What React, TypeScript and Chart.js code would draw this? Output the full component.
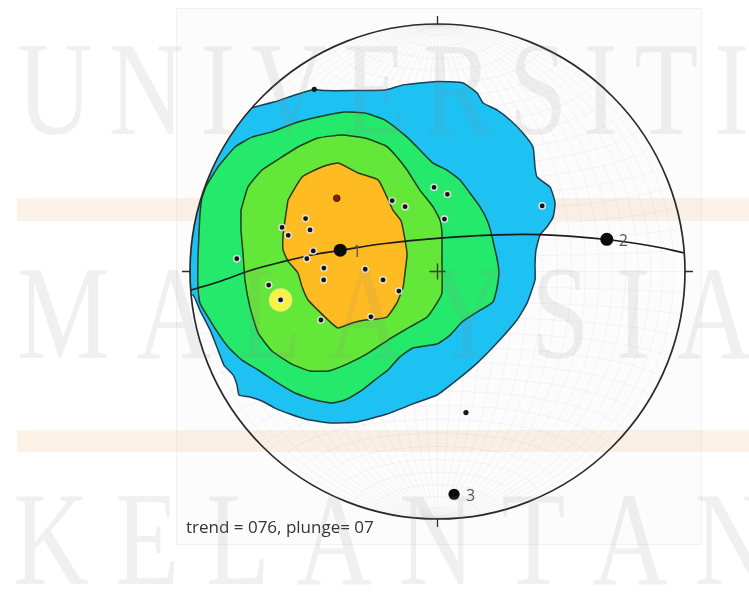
import React, { useEffect, useRef } from 'react';
import { Chart, registerables } from 'chart.js';

Chart.register(...registerables);

// Equal-area stereonet coordinates: primitive circle radius = 100, x = east, y = north.
type P = [number, number];

const blueContour: P[] = [
  [-75.4, 66.1], [-65.7, 68.6], [-57.6, 71.3], [-49.9, 73.5], [-45.5, 73.1], [-34.5, 73.1],
  [-21.2, 73.3], [-13.9, 75.4], [-0.2, 76.8], [10.3, 76.2], [16.0, 72.1], [18.4, 68.1],
  [24.0, 65.3], [29.3, 61.2], [34.5, 56.0], [38.6, 50.3], [39.4, 42.2], [40.2, 38.2],
  [45.5, 34.1], [47.5, 27.7], [46.7, 22.0], [44.2, 18.0], [41.4, 14.7], [39.8, 8.7],
  [39.4, 2.6], [39.4, -3.4], [36.2, -12.7], [32.1, -19.6], [24.0, -28.9], [16.0, -37.0],
  [7.9, -43.8], [-0.2, -49.9], [-9.9, -53.5], [-20.4, -57.6], [-32.5, -60.8], [-43.4, -61.2],
  [-53.5, -59.6], [-59.6, -57.6], [-65.7, -55.2], [-70.9, -52.3], [-75.8, -50.7], [-80.2, -49.9],
  [-81.0, -45.9], [-82.6, -41.8], [-86.3, -37.8], [-88.7, -31.7], [-91.9, -23.6], [-96.0, -15.6],
  [-98.8, -9.5], [-104, -9.5], [-112, 0], [-110, 50], [-84, 66],
];

const greenContour: P[] = [
  [-93.5, 34.5], [-88.7, 42.2], [-81.8, 50.3], [-75.0, 54.3], [-66.9, 56.4], [-57.6, 60.0],
  [-48.3, 62.4], [-37.4, 64.4], [-29.3, 64.0], [-21.2, 61.2], [-12.3, 54.3], [-7.1, 49.1],
  [-1.8, 43.8], [3.8, 41.0], [9.1, 37.0], [13.1, 31.7], [17.2, 26.1], [20.0, 20.8],
  [21.6, 16.0], [22.8, 10.7], [24.0, 5.5], [24.8, -0.2], [24.0, -6.7], [22.4, -12.3],
  [16.0, -16.4], [9.9, -20.4], [5.1, -25.7], [-0.2, -29.3], [-9.9, -30.9], [-15.2, -34.5],
  [-20.0, -39.8], [-25.3, -43.8], [-30.5, -47.9], [-37.4, -51.9], [-42.6, -53.1], [-49.5, -51.9],
  [-57.6, -49.1], [-64.4, -45.1], [-72.5, -39.8], [-79.0, -35.8], [-84.6, -30.5], [-88.7, -24.8],
  [-92.7, -18.4], [-96.0, -12.7], [-96.8, -5.5], [-96.8, 4.6], [-96.4, 14.7], [-96.0, 22.8],
  [-95.2, 29.7],
];

const lightGreenContour: P[] = [
  [-79.4, 24.8], [-76.6, 34.1], [-70.9, 41.0], [-62.8, 46.3], [-56.4, 50.3], [-48.3, 53.9],
  [-38.6, 55.2], [-29.3, 53.9], [-20.8, 50.7], [-16.4, 46.3], [-12.3, 41.0], [-7.1, 32.9],
  [-1.8, 26.1], [1.0, 20.8], [1.8, 16.0], [1.8, 4.6], [1.8, -8.7], [-0.2, -12.7],
  [-4.2, -18.4], [-11.1, -22.4], [-20.0, -27.7], [-28.5, -33.3], [-36.6, -37.4], [-44.2, -40.2],
  [-51.5, -40.2], [-58.8, -37.4], [-66.9, -32.1], [-72.5, -24.8], [-75.8, -14.3], [-77.8, -3.4],
  [-78.6, 7.5], [-79.4, 16.8],
];

const orangeContour: P[] = [
  [-60.4, 28.9], [-54.7, 38.2], [-46.7, 42.2], [-40.2, 43.8], [-32.1, 39.8], [-24.0, 37.0],
  [-20.8, 30.9], [-18.0, 24.8], [-14.7, 20.4], [-13.1, 12.7], [-12.3, 6.7], [-13.1, -0.2],
  [-13.9, -6.3], [-16.4, -12.7], [-20.4, -18.4], [-24.4, -19.2], [-29.3, -19.6], [-34.5, -20.8],
  [-40.2, -22.8], [-44.2, -19.6], [-48.3, -15.6], [-52.3, -11.5], [-54.7, -6.3], [-56.4, -0.6],
  [-60.4, 4.2], [-62.4, 8.7], [-62.4, 14.7], [-61.6, 20.8],
];

const yellowSpot: P[] = [[-63.4, -11.5]];

const greatCircle: P[] = [
  [-99.6, -7.5], [-88.7, -4.2], [-75.0, 0.6], [-61.6, 4.2], [-50.7, 6.7], [-39.4, 8.5],
  [-21.2, 11.3], [1.0, 13.5], [21.2, 14.7], [41.4, 14.9], [68.5, 12.9], [88.7, 9.9], [99.6, 7.5],
];

const poles: P[] = [
  [-18.3, 28.6], [-13.1, 26.2], [-1.4, 34.0], [4.0, 31.2], [2.8, 21.2], [-53.3, 21.4],
  [-51.5, 16.8], [-62.8, 17.8], [-60.3, 14.6], [-50.2, 8.3], [-52.8, 5.2], [-81.1, 5.2],
  [-45.9, 1.4], [-46.0, -3.4], [-29.2, 0.9], [-22.0, -3.4], [-15.6, -7.9], [-68.2, -5.5],
  [-63.4, -11.5], [-47.1, -19.6], [-26.9, -18.3], [42.3, 26.5],
];

const redPole: P[] = [[-40.7, 29.6]];
const plainDots: P[] = [[-49.8, 73.6], [11.5, -57.0]];

const keyPoints: P[] = [[-39.3, 8.6], [68.4, 13.0], [6.7, -90.0]];
const keyLabels = ['1', '2', '3'];

const caption = 'trend = 076, plunge= 07';
const watermarkRows = ['UNIVERSITI', 'MALAYSIA', 'KELANTAN'];

// ---- layout / style ----
const W = 749;
const H = 596;
const CX = 437.5;
const CY = 271.5;
const RPX = 247.5;
const NET = 100;

const toXY = (pts: P[]) => pts.map(([x, y]) => ({ x, y }));
const closed = (pts: P[]) => toXY([...pts, pts[0]]);

const contour = (label: string, pts: P[], fillColor: string, lineColor: string, order: number) => ({
  label,
  data: closed(pts),
  showLine: true,
  fill: 'shape',
  backgroundColor: fillColor,
  borderColor: lineColor,
  borderWidth: 1.5,
  borderJoinStyle: 'round',
  pointRadius: 0,
  pointHoverRadius: 0,
  tension: 0.15,
  order,
});

function geom(chart: any) {
  const xs = chart.scales.x;
  const ys = chart.scales.y;
  const cx = xs.getPixelForValue(0);
  const cy = ys.getPixelForValue(0);
  const r = xs.getPixelForValue(NET) - cx;
  return { cx, cy, r };
}

function drawNetGrid(ctx: CanvasRenderingContext2D, cx: number, cy: number, r: number) {
  const rad = Math.PI / 180;
  const proj = (lam: number, phi: number) => {
    const cp = Math.cos(phi * rad);
    const x3 = cp * Math.sin(lam * rad);
    const y3 = Math.sin(phi * rad);
    const z3 = cp * Math.cos(lam * rad);
    const k = Math.sqrt(1 / (1 + z3));
    return [cx + r * k * x3, cy - r * k * y3];
  };
  ctx.save();
  ctx.strokeStyle = 'rgba(0,0,0,0.05)';
  ctx.lineWidth = 0.8;
  for (let l = -85; l <= 85; l += 5) {
    ctx.beginPath();
    for (let p = -90; p <= 90; p += 2) {
      const [x, y] = proj(l, p);
      if (p === -90) ctx.moveTo(x, y);
      else ctx.lineTo(x, y);
    }
    ctx.stroke();
  }
  for (let p = -85; p <= 85; p += 5) {
    ctx.beginPath();
    for (let l = -90; l <= 90; l += 2) {
      const [x, y] = proj(l, p);
      if (l === -90) ctx.moveTo(x, y);
      else ctx.lineTo(x, y);
    }
    ctx.stroke();
  }
  ctx.restore();
}

function drawWatermark(ctx: CanvasRenderingContext2D) {
  const rows = [
    { left: 17, right: 749, base: 134 },
    { left: 17, right: 752, base: 358 },
    { left: 13, right: 770, base: 584 },
  ];
  const sx = 0.78;
  ctx.save();
  ctx.font = '134px "Liberation Serif", "DejaVu Serif", serif';
  ctx.fillStyle = 'rgba(140,140,140,0.13)';
  ctx.textBaseline = 'alphabetic';
  ctx.textAlign = 'left';
  watermarkRows.forEach((text, i) => {
    const row = rows[i];
    const chars = text.split('');
    const widths = chars.map((c) => ctx.measureText(c).width * sx);
    const total = widths.reduce((a, b) => a + b, 0);
    const gap = (row.right - row.left - total) / (chars.length - 1);
    let x = row.left;
    chars.forEach((c, j) => {
      ctx.save();
      ctx.translate(x, row.base);
      ctx.scale(sx, 1);
      ctx.fillText(c, 0, 0);
      ctx.restore();
      x += widths[j] + gap;
    });
  });
  ctx.restore();
}

const netPlugin = {
  id: 'stereonet',
  beforeDraw(chart: any) {
    const ctx: CanvasRenderingContext2D = chart.ctx;
    ctx.save();
    ctx.fillStyle = '#ffffff';
    ctx.fillRect(0, 0, W, H);
    ctx.fillStyle = 'rgba(0,0,0,0.01)';
    ctx.fillRect(176, 8, 526, 537);
    ctx.strokeStyle = 'rgba(0,0,0,0.045)';
    ctx.lineWidth = 1;
    ctx.strokeRect(176.5, 8.5, 525, 536);
    ctx.fillStyle = 'rgba(246,178,110,0.17)';
    ctx.fillRect(17, 198, W - 17, 23);
    ctx.fillRect(17, 430, W - 17, 22);
    ctx.restore();
  },
  beforeDatasetsDraw(chart: any) {
    const ctx: CanvasRenderingContext2D = chart.ctx;
    const { cx, cy, r } = geom(chart);
    ctx.save();
    ctx.beginPath();
    ctx.arc(cx, cy, r, 0, Math.PI * 2);
    ctx.clip();
    drawNetGrid(ctx, cx, cy, r);
  },
  afterDatasetsDraw(chart: any) {
    const ctx: CanvasRenderingContext2D = chart.ctx;
    ctx.restore();
    const { cx, cy, r } = geom(chart);
    ctx.save();
    // primitive circle
    ctx.strokeStyle = '#2a2a2a';
    ctx.lineWidth = 1.7;
    ctx.beginPath();
    ctx.arc(cx, cy, r, 0, Math.PI * 2);
    ctx.stroke();
    // N, E, S, W ticks
    ctx.lineWidth = 1.3;
    ctx.beginPath();
    ctx.moveTo(cx, cy - r); ctx.lineTo(cx, cy - r - 8);
    ctx.moveTo(cx, cy + r); ctx.lineTo(cx, cy + r + 8);
    ctx.moveTo(cx + r, cy); ctx.lineTo(cx + r + 8, cy);
    ctx.moveTo(cx - r, cy); ctx.lineTo(cx - r - 8, cy);
    ctx.stroke();
    // centre cross
    ctx.strokeStyle = '#2c3a22';
    ctx.lineWidth = 1.3;
    ctx.beginPath();
    ctx.moveTo(cx - 8, cy); ctx.lineTo(cx + 8, cy);
    ctx.moveTo(cx, cy - 8); ctx.lineTo(cx, cy + 8);
    ctx.stroke();
    // point labels
    const idx = chart.data.datasets.findIndex((d: any) => d.label === 'key');
    const meta = chart.getDatasetMeta(idx);
    ctx.font = '16px "Open Sans", "DejaVu Sans", sans-serif';
    ctx.fillStyle = '#555555';
    ctx.textBaseline = 'middle';
    ctx.textAlign = 'left';
    meta.data.forEach((el: any, i: number) => {
      ctx.fillText(keyLabels[i], el.x + 12, el.y + 2);
    });
    // caption
    ctx.font = '17px "Open Sans", "DejaVu Sans", sans-serif';
    ctx.fillStyle = '#333333';
    ctx.textBaseline = 'alphabetic';
    ctx.fillText(caption, 186, 533);
    ctx.restore();
    drawWatermark(ctx);
  },
};

export default function App() {
  const ref = useRef<HTMLCanvasElement>(null);

  useEffect(() => {
    if (!ref.current) return;
    const config: any = {
      type: 'scatter',
      data: {
        datasets: [
          {
            label: 'key',
            data: toXY(keyPoints),
            pointRadius: [6.5, 6.5, 5.6],
            pointBackgroundColor: '#0b0b0b',
            pointBorderColor: '#0b0b0b',
            pointBorderWidth: 0,
            order: 1,
          },
          {
            label: 'poles',
            data: toXY(poles),
            pointRadius: 3.1,
            pointBackgroundColor: '#141414',
            pointBorderColor: 'rgba(238,238,238,0.9)',
            pointBorderWidth: 1.4,
            order: 2,
          },
          {
            label: 'red pole',
            data: toXY(redPole),
            pointRadius: 3.3,
            pointBackgroundColor: '#8a1c08',
            pointBorderColor: '#5a1204',
            pointBorderWidth: 1,
            order: 3,
          },
          {
            label: 'dots',
            data: toXY(plainDots),
            pointRadius: 2.6,
            pointBackgroundColor: '#151515',
            pointBorderWidth: 0,
            order: 4,
          },
          {
            label: 'great circle',
            data: toXY(greatCircle),
            showLine: true,
            borderColor: '#1c1c1c',
            borderWidth: 1.6,
            pointRadius: 0,
            tension: 0.4,
            fill: false,
            order: 5,
          },
          {
            label: 'yellow',
            data: toXY(yellowSpot),
            pointRadius: 11,
            pointBackgroundColor: '#f6f43e',
            pointBorderColor: 'rgba(240,240,120,0.9)',
            pointBorderWidth: 1.5,
            order: 6,
          },
          contour('orange', orangeContour, '#ffbb22', '#2b3a1a', 7),
          contour('light green', lightGreenContour, '#63e739', '#1f3d1f', 8),
          contour('green', greenContour, '#25e96b', '#1f3d22', 9),
          contour('blue', blueContour, '#1dc2f3', '#1c3d52', 10),
        ],
      },
      options: {
        responsive: false,
        maintainAspectRatio: false,
        animation: false,
        devicePixelRatio: 1,
        events: [],
        layout: { padding: 0, autoPadding: false },
        plugins: {
          legend: { display: false },
          tooltip: { enabled: false },
          title: { display: false },
        },
        scales: {
          x: {
            type: 'linear',
            display: false,
            min: (-CX / RPX) * NET,
            max: ((W - CX) / RPX) * NET,
          },
          y: {
            type: 'linear',
            display: false,
            min: (-(H - CY) / RPX) * NET,
            max: (CY / RPX) * NET,
          },
        },
      },
      plugins: [netPlugin],
    };
    const chart = new Chart(ref.current, config);
    return () => chart.destroy();
  }, []);

  return (
    <div style={{ position: 'fixed', left: 0, top: 0, width: W, height: H, background: '#ffffff' }}>
      <canvas ref={ref} width={W} height={H} style={{ display: 'block', width: W, height: H }} />
    </div>
  );
}
